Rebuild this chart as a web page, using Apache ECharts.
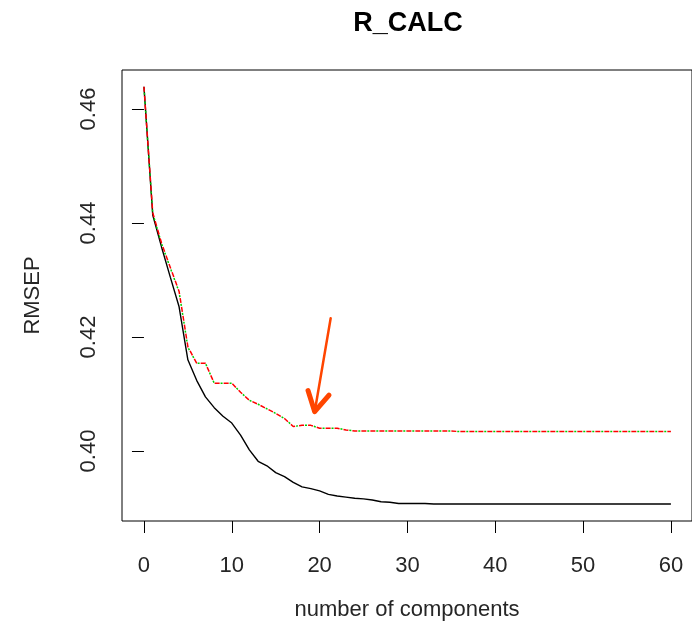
<!DOCTYPE html>
<html>
<head>
<meta charset="utf-8">
<script src="https://cdn.jsdelivr.net/npm/echarts@6/dist/echarts.min.js"></script>
<style>
html,body{margin:0;padding:0;background:#fff;}
#chart{width:692px;height:629px;}
</style>
</head>
<body>
<div id="chart"></div>
<script>
// ---- data ----
var components = [0,1,2,3,4,5,6,7,8,9,10,11,12,13,14,15,16,17,18,19,20,21,22,23,24,25,26,27,28,29,30,
  31,32,33,34,35,36,37,38,39,40,41,42,43,44,45,46,47,48,49,50,51,52,53,54,55,56,57,58,59,60];

var train = [0.4639,0.4414,0.4358,0.4305,0.4253,0.4160,0.4124,0.4095,0.4076,0.4061,0.4049,
  0.4028,0.4002,0.3982,0.3974,0.3962,0.3955,0.3945,0.3937,0.3934,0.3930,
  0.3924,0.3921,0.3919,0.3917,0.3916,0.3914,0.3911,0.3910,0.3908,0.3908,
  0.3908,0.3908,0.3907,0.3907,0.3907,0.3907,0.3907,0.3907,0.3907,0.3907,
  0.3907,0.3907,0.3907,0.3907,0.3907,0.3907,0.3907,0.3907,0.3907,0.3907,
  0.3907,0.3907,0.3907,0.3907,0.3907,0.3907,0.3907,0.3907,0.3907,0.3907];

var cv = [0.4639,0.4418,0.4365,0.4322,0.4280,0.4183,0.4154,0.4154,0.4119,0.4119,0.4119,
  0.4103,0.4089,0.4082,0.4074,0.4066,0.4057,0.4043,0.4045,0.4045,0.4040,
  0.4040,0.4040,0.4037,0.4035,0.4035,0.4035,0.4035,0.4035,0.4035,0.4035,
  0.4035,0.4035,0.4035,0.4035,0.4035,0.4034,0.4034,0.4034,0.4034,0.4034,
  0.4034,0.4034,0.4034,0.4034,0.4034,0.4034,0.4034,0.4034,0.4034,0.4034,
  0.4034,0.4034,0.4034,0.4034,0.4034,0.4034,0.4034,0.4034,0.4034,0.4034];

var adjCV = [0.4639,0.4417,0.4364,0.4321,0.4279,0.4182,0.4154,0.4154,0.4119,0.4119,0.4119,
  0.4103,0.4089,0.4082,0.4074,0.4066,0.4057,0.4043,0.4045,0.4045,0.4040,
  0.4040,0.4040,0.4037,0.4035,0.4035,0.4035,0.4035,0.4035,0.4035,0.4035,
  0.4035,0.4035,0.4035,0.4035,0.4035,0.4034,0.4034,0.4034,0.4034,0.4034,
  0.4034,0.4034,0.4034,0.4034,0.4034,0.4034,0.4034,0.4034,0.4034,0.4034,
  0.4034,0.4034,0.4034,0.4034,0.4034,0.4034,0.4034,0.4034,0.4034,0.4034];

var xTicks = [0,10,20,30,40,50,60];
var yTicks = [0.40,0.42,0.44,0.46];

// annotation arrow (data coordinates)
var arrowShaft = [[21.26,0.4233],[19.44,0.4069]];
var arrowHead = [[18.68,0.4106],[19.44,0.4069],[21.07,0.4098]];

// ---- chart ----
function pairs(xs, ys){ return xs.map(function(x,i){ return [x, ys[i]]; }); }

var FONT = "'Liberation Sans', Arial, Helvetica, sans-serif";
var TXT = '#262626';
var chart = echarts.init(document.getElementById('chart'), null, {renderer:'canvas'});
chart.setOption({
  animation:false,
  backgroundColor:'#ffffff',
  title:{
    text:'R_CALC', left:403, top:5, textAlign:'center',
    textStyle:{fontFamily:FONT, fontSize:27, fontWeight:'bold', color:'#000'}
  },
  grid:{left:122, top:70, right:-1, bottom:108, show:true, borderColor:'#000', borderWidth:1, backgroundColor:'transparent'},
  xAxis:{
    type:'value', min:-2.5, max:62.4,
    name:'number of components', nameLocation:'middle', nameGap:78,
    nameTextStyle:{fontFamily:FONT, fontSize:22, color:TXT},
    axisLine:{show:false},
    axisTick:{show:true, length:12, inside:false, customValues:xTicks, lineStyle:{color:'#000', width:1}},
    axisLabel:{show:true, customValues:xTicks, margin:34, fontFamily:FONT, fontSize:22, color:TXT},
    splitLine:{show:false}
  },
  yAxis:{
    type:'value', min:0.38772, max:0.46684,
    name:'RMSEP', nameLocation:'middle', nameGap:78, nameRotate:90,
    nameTextStyle:{fontFamily:FONT, fontSize:22, color:TXT},
    axisLine:{show:false},
    axisTick:{show:true, length:12, inside:false, customValues:yTicks, lineStyle:{color:'#000', width:1}},
    axisLabel:{show:true, customValues:yTicks, rotate:90, margin:22, fontFamily:FONT, fontSize:22, color:TXT,
      formatter:function(v){ return v.toFixed(2); }},
    splitLine:{show:false}
  },
  series:[
    {type:'line', name:'train', data:pairs(components, train), showSymbol:false, symbol:'none',
      lineStyle:{color:'#000', width:1.4}},
    {type:'line', name:'CV', data:pairs(components, cv), showSymbol:false, symbol:'none',
      lineStyle:{color:'#ff0000', width:1.5, type:[5,4]}},
    {type:'line', name:'adjCV', data:pairs(components, adjCV), showSymbol:false, symbol:'none',
      lineStyle:{color:'#00cd00', width:1.5, type:[2,7], dashOffset:3}},
    {type:'line', name:'arrow', data:arrowShaft, showSymbol:false, symbol:'none',
      lineStyle:{color:'#ff4500', width:2.5, cap:'round'}},
    {type:'line', name:'arrowHead', data:arrowHead, showSymbol:false, symbol:'none',
      lineStyle:{color:'#ff4500', width:5, cap:'round', join:'round'}}
  ]
});
</script>
</body>
</html>
